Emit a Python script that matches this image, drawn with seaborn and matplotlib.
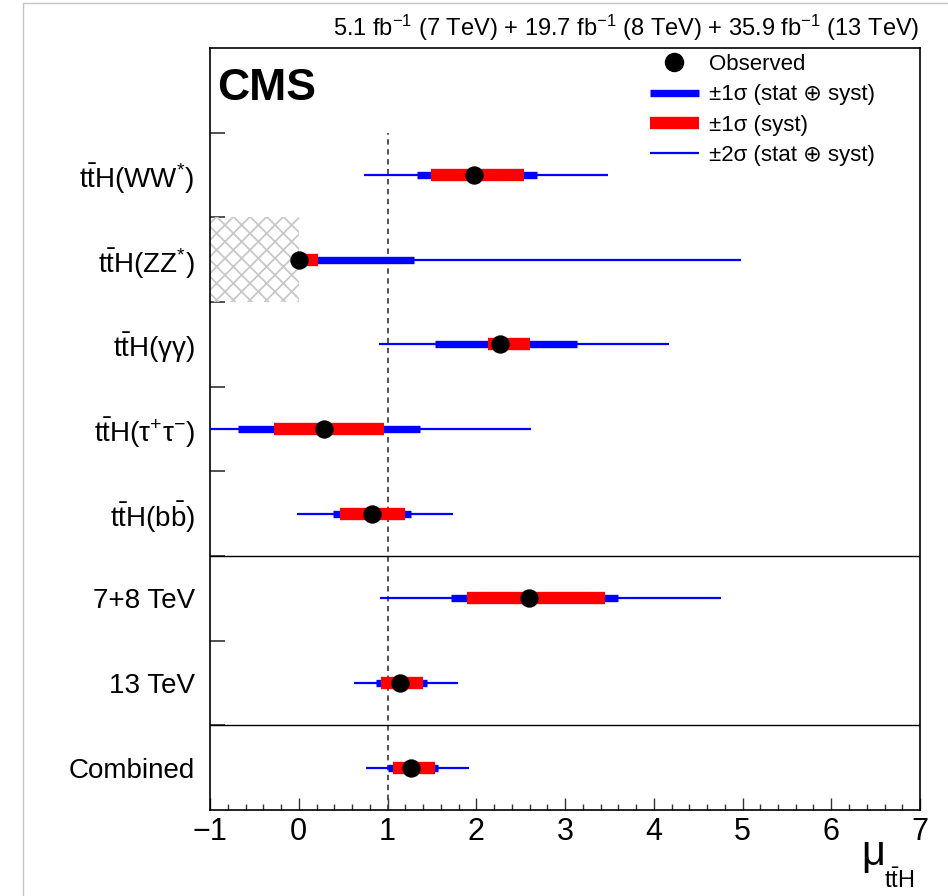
import matplotlib
matplotlib.use("Agg")
import matplotlib.pyplot as plt
import seaborn as sns
import numpy as np
import pandas as pd
from matplotlib.patches import Rectangle
from matplotlib.lines import Line2D
from matplotlib.ticker import MultipleLocator

# ---------------- data ----------------
labels = [r"t$\bar{\rm t}$H(WW$^{*}$)", r"t$\bar{\rm t}$H(ZZ$^{*}$)", r"t$\bar{\rm t}$H(γγ)",
          r"t$\bar{\rm t}$H(τ$^{+}$τ$^{-}$)", r"t$\bar{\rm t}$H(b$\bar{\rm b}$)",
          "7+8 TeV", "13 TeV", "Combined"]
mu      = [1.97, 0.00, 2.27, 0.28, 0.82, 2.59, 1.14, 1.26]
tot1_lo = [1.33, 0.00, 1.53, -0.68, 0.39, 1.71, 0.87, 1.00]
tot1_hi = [2.68, 1.30, 3.13, 1.37, 1.26, 3.60, 1.45, 1.57]
syst_lo = [1.49, 0.00, 2.13, -0.28, 0.47, 1.90, 0.93, 1.06]
syst_hi = [2.54, 0.22, 2.60, 0.96, 1.20, 3.45, 1.40, 1.54]
tot2_lo = [0.74, 0.00, 0.90, -1.10, -0.02, 0.91, 0.62, 0.76]
tot2_hi = [3.48, 4.98, 4.17, 2.62, 1.74, 4.76, 1.79, 1.92]
ypos    = [7.5, 6.5, 5.5, 4.5, 3.5, 2.5, 1.5, 0.5]

df = pd.DataFrame({"label": labels, "mu": mu, "y": ypos})

# ---------------- style ----------------
sns.set_style("white")
plt.rcParams["font.family"] = ["Liberation Sans", "DejaVu Sans"]
plt.rcParams["mathtext.fontset"] = "custom"
plt.rcParams["mathtext.rm"] = "Liberation Sans"
plt.rcParams["mathtext.it"] = "Liberation Sans:italic"
plt.rcParams["mathtext.bf"] = "Liberation Sans:bold"
plt.rcParams["hatch.linewidth"] = 1.3
for k in ["text.color", "axes.labelcolor", "xtick.color", "ytick.color", "axes.edgecolor"]:
    plt.rcParams[k] = "black"

W, H = 948, 896
fig = plt.figure(figsize=(W / 100, H / 100), dpi=100)
ax = fig.add_axes([210 / W, 1 - 810 / H, (920 - 210) / W, (810 - 48) / H])

# light grey outer frame
fig.add_artist(Line2D([23 / W, 23 / W], [0, 1 - 3 / H], transform=fig.transFigure, color="#c4c4c4", lw=1))
fig.add_artist(Line2D([23 / W, 1], [1 - 3 / H, 1 - 3 / H], transform=fig.transFigure, color="#c4c4c4", lw=1))

ax.set_xlim(-1, 7)
ax.set_ylim(0, 9)

# hatched physically-forbidden region for ZZ
ax.add_patch(Rectangle((-1, 6), 1, 1, hatch="xx", fill=False, edgecolor="#c8c8c8", lw=0, zorder=1))

# SM line
ax.vlines(1, 0, 8, colors="#444444", linestyles=(0, (3, 2.5)), lw=1.3, zorder=2)

# separators
ax.axhline(1, color="black", lw=1.0, zorder=2)
ax.axhline(3, color="black", lw=1.0, zorder=2)

# error bars
ax.hlines(ypos, tot2_lo, tot2_hi, colors="#0000ff", lw=1.6, zorder=3, capstyle="butt")
ax.hlines(ypos, tot1_lo, tot1_hi, colors="#0000ff", lw=5.3, zorder=4, capstyle="butt")
ax.hlines(ypos, syst_lo, syst_hi, colors="#ff0000", lw=8.9, zorder=5, capstyle="butt")
sns.scatterplot(data=df, x="mu", y="y", color="black", s=175, linewidth=0, zorder=6, ax=ax, legend=False)
ax.set_xlabel("")
ax.set_ylabel("")

# ticks
ax.set_xticks(range(-1, 8))
ax.set_xticklabels(["\u22121"] + [str(i) for i in range(0, 8)])
ax.xaxis.set_minor_locator(MultipleLocator(0.2))
ax.tick_params(axis="x", which="major", direction="in", length=9, width=1, labelsize=22, pad=5,
               bottom=True, top=False, color="#333333")
ax.tick_params(axis="x", which="minor", direction="in", length=4.5, width=1, bottom=True, top=False,
               color="#333333")
ax.set_yticks(ypos)
ax.set_yticklabels(labels)
ax.set_yticks(range(1, 9), minor=True)
ax.tick_params(axis="y", which="major", length=0, labelsize=20, pad=11)
ax.tick_params(axis="y", which="minor", direction="in", length=11, width=1.2, left=True, right=False,
               color="#333333")
for s in ax.spines.values():
    s.set_color("black")
    s.set_linewidth(1.2)

# texts
fig.text(217 / W, 1 - 100 / H, "CMS", fontsize=32, fontweight="bold", va="baseline", ha="left")
fig.text(919 / W, 1 - 36 / H,
         r"5.1 fb$^{-1}$ (7 TeV) + 19.7 fb$^{-1}$ (8 TeV) + 35.9 fb$^{-1}$ (13 TeV)",
         fontsize=17, ha="right", va="baseline")
fig.text(861 / W, 1 - 865 / H, "μ", fontsize=30, ha="left", va="baseline")
fig.text(884 / W, 1 - 888 / H, r"t$\bar{\rm t}$H", fontsize=17, ha="left", va="baseline")

# legend
handles = [
    Line2D([], [], marker="o", color="black", ls="none", markersize=13),
    Line2D([], [], color="#0000ff", lw=5.3, solid_capstyle="butt"),
    Line2D([], [], color="#ff0000", lw=8.9, solid_capstyle="butt"),
    Line2D([], [], color="#0000ff", lw=1.6, solid_capstyle="butt"),
]
leg_labels = ["Observed", "±1σ (stat ⊕ syst)", "±1σ (syst)", "±2σ (stat ⊕ syst)"]
ax.legend(handles, leg_labels, loc="upper left", bbox_to_anchor=(650 / W, 1 - 54 / H),
          bbox_transform=fig.transFigure, frameon=False, fontsize=16, borderpad=0,
          borderaxespad=0, handlelength=2.2, handletextpad=0.45, labelspacing=0.42)

fig.savefig("out.png", dpi=100)
